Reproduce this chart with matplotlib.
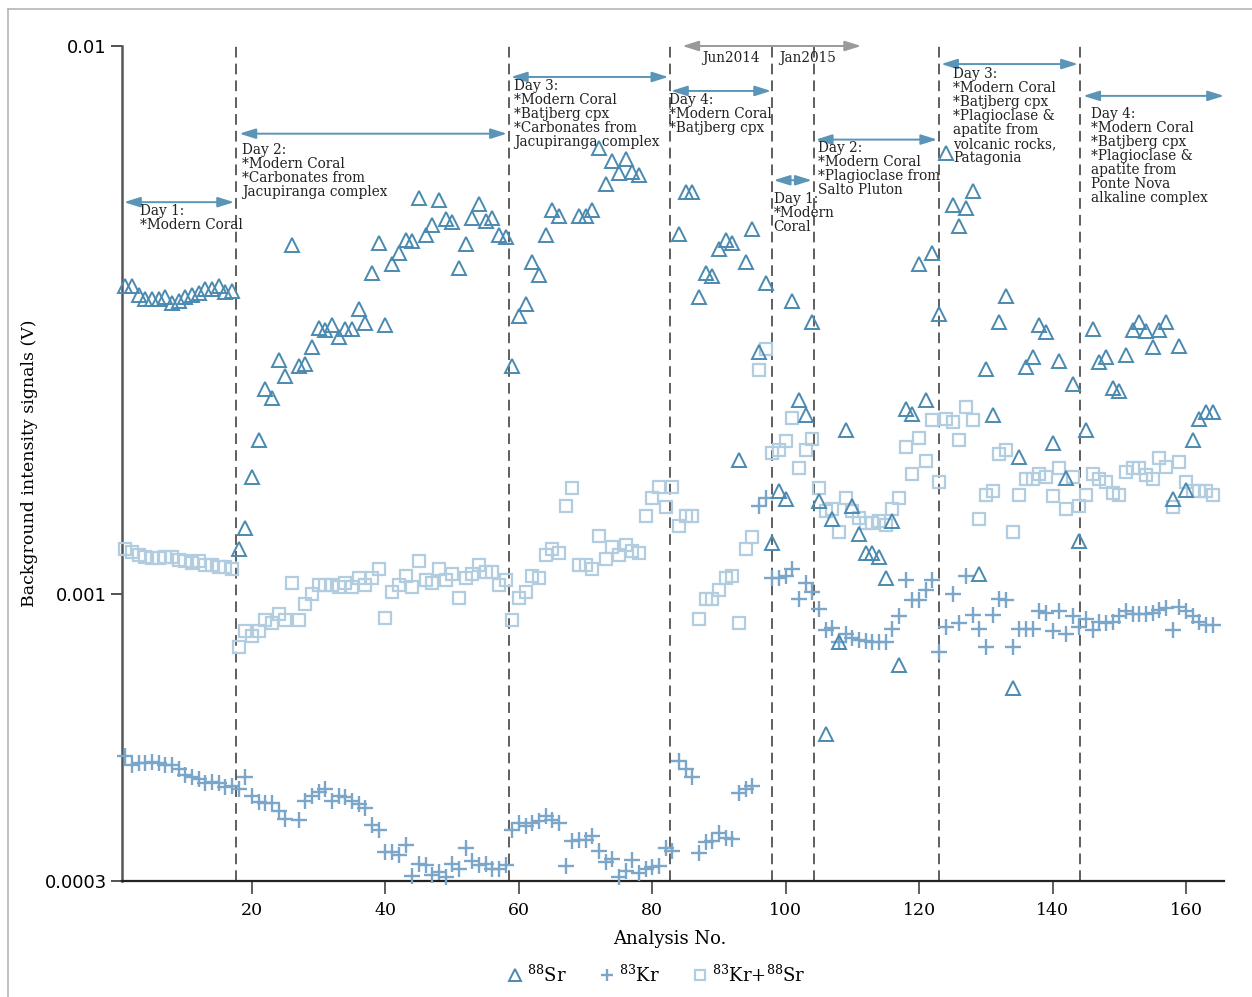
import matplotlib
matplotlib.use('Agg')
import matplotlib.pyplot as plt
import numpy as np
from matplotlib.lines import Line2D

plt.rcParams['font.family'] = ['DejaVu Serif']
plt.rcParams['mathtext.fontset'] = 'custom'
plt.rcParams['mathtext.rm'] = 'DejaVu Serif'
plt.rcParams['mathtext.default'] = 'rm'

nan = np.nan

# analysis numbers (x axis)
analysis_no = np.arange(1, 165)

# 88Sr background, mV
sr88_mV = [
    3.65, 3.65, 3.52, 3.45, 3.46, 3.46, 3.48, 3.40, 3.42, 3.48, 3.52, 3.55, 3.60, 3.61, 3.65, 3.56, 3.58,
    1.21, 1.32, 1.64, 1.91, 2.37, 2.28, 2.67, 2.50, 4.33, 2.61, 2.63, 2.83, 3.06, 3.03, 3.10, 2.95, 3.05,
    3.05, 3.32, 3.13, 3.85, 4.38, 3.10, 4.00, 4.19, 4.43, 4.40, 5.29, 4.53, 4.71, 5.24, 4.83, 4.78, 3.93,
    4.36, 4.86, 5.14, 4.79, 4.86, 4.52, 4.49,
    2.61, 3.22, 3.38, 4.03, 3.82, 4.53, 5.03, 4.90, nan, nan, 4.90, 4.90, 5.02, 6.52, 5.59, 6.18, 5.87,
    6.23, 5.89, 5.81, nan, nan, nan, nan, nan,
    4.55, 5.41, 5.41, 3.48, 3.85, 3.81, 4.26, 4.43, 4.38, 1.76, 4.03, 4.64, 2.77, 3.69,
    1.24, 1.54, 1.49, 3.42, 2.26, 2.12, 3.14,
    1.48, 0.556, 1.37, 0.818, 1.99, 1.45, 1.29, 1.19, 1.19, 1.17, 1.07, 1.36, 0.744, 2.18, 2.13, 4.00,
    2.26, 4.19, 3.24, 6.39,
    5.12, 4.70, 5.06, 5.43, 1.09, 2.58, 2.12, 3.14, 3.50, 0.676, 1.78, 2.60, 2.71, 3.10, 3.01, 1.89,
    2.66, 1.63, 2.42, 1.25,
    1.99, 3.05, 2.65, 2.71, 2.38, 2.35, 2.73, 3.03, 3.14, 3.02, 2.82, 3.03, 3.14, 1.49, 2.84, 1.55,
    1.91, 2.09, 2.15, 2.15,
]

# 83Kr background, mV
kr83_mV = [
    0.507, 0.488, 0.493, 0.493, 0.495, 0.493, 0.488, 0.488, 0.481, 0.469, 0.464, 0.460, 0.452, 0.454,
    0.452, 0.446, 0.448,
    0.441, 0.464, 0.428, 0.418, 0.416, 0.416, 0.403, 0.390, nan, 0.387, 0.419, 0.429, 0.436, 0.442,
    0.420, 0.429, 0.427, 0.420, 0.414, 0.407, 0.379, 0.372, 0.339, 0.339, 0.334, 0.349, 0.307, 0.322,
    0.321, 0.308, 0.311, 0.305, 0.322, 0.316, 0.344, 0.326, 0.321, 0.322, 0.316, 0.316, 0.321,
    0.371, 0.382, 0.378, 0.382, 0.386, 0.394, 0.387, 0.382, 0.319, 0.355, 0.357, 0.357, 0.363, 0.340,
    0.325, 0.329, 0.305, 0.313, 0.328, 0.310, 0.316, 0.318, 0.320, 0.344, 0.340,
    0.496, 0.480, 0.465, 0.337, 0.353, 0.355, 0.367, 0.359, 0.358, 0.434, 0.441, 0.448, 1.45, 1.50,
    1.07, 1.07, 1.08, 1.11, 0.98, 1.05, 1.01,
    0.94, 0.862, 0.868, 0.818, 0.846, 0.832, 0.826, 0.822, 0.820, 0.820, 0.820, 0.865, 0.914, 1.06,
    0.976, 0.976, 1.02, 1.06, 0.785, 0.870, 1.00, 0.886, 1.08, 0.917, 0.865, 0.800, 0.917, 0.980,
    0.976, 0.800, 0.865, 0.865, 0.865, 0.931, 0.924, 0.856, 0.933, 0.846, 0.914, 0.870, 0.901, 0.862,
    0.89, 0.886, 0.89, 0.914, 0.933, 0.92, 0.92, 0.92, 0.924, 0.936, 0.943, 0.862, 0.95, 0.931,
    0.914, 0.892, 0.88, 0.88,
]

# 83Kr+88Sr background, mV
krsr_mV = [
    1.21, 1.195, 1.18, 1.17, 1.165, 1.165, 1.17, 1.17, 1.155, 1.15, 1.14, 1.15, 1.13, 1.13, 1.12, 1.12, 1.11,
    0.80, 0.857, 0.838, 0.857, 0.898, 0.886, 0.92, 0.898, 1.05, 0.898, 0.96, 1.00, 1.04, 1.04, 1.04,
    1.03, 1.05, 1.03, 1.07, 1.04, 1.07, 1.11, 0.904, 1.01, 1.04, 1.08, 1.03, 1.15, 1.06, 1.05, 1.11,
    1.06, 1.09, 0.985, 1.07, 1.09, 1.13, 1.10, 1.10, 1.04, 1.06,
    0.898, 0.985, 1.01, 1.08, 1.07, 1.18, 1.21, 1.19, 1.45, 1.56, 1.13, 1.13, 1.11, 1.28, 1.16, 1.22,
    1.18, 1.23, 1.20, 1.19, 1.39, 1.50, 1.57, 1.44, 1.57,
    1.33, 1.39, 1.39, 0.90, 0.98, 0.98, 1.02, 1.07, 1.08, 0.886, 1.21, 1.27, 2.57, 2.80,
    1.81, 1.83, 1.90, 2.10, 1.70, 1.83, 1.92,
    1.56, 1.42, 1.43, 1.30, 1.50, 1.42, 1.38, 1.35, 1.35, 1.36, 1.34, 1.43, 1.50, 1.86, 1.66, 1.93,
    1.75, 2.08, 1.60, 2.09, 2.06, 1.91, 2.20, 2.08, 1.37, 1.52, 1.54, 1.80, 1.83, 1.30, 1.52, 1.62,
    1.62, 1.66, 1.64, 1.51, 1.70, 1.43, 1.64, 1.45, 1.52, 1.66, 1.62, 1.60, 1.53, 1.52, 1.67, 1.70,
    1.70, 1.65, 1.62, 1.77, 1.71, 1.44, 1.74, 1.60, 1.54, 1.54, 1.54, 1.52,
]

# session boundaries (analysis No.)
session_breaks = [17.6, 58.5, 82.7, 98.0, 104.2, 123.0, 144.1]

# session notes: (arrow start, arrow end, arrow y [V], text x, text y [V], text)
sessions = [
    (0.8, 17.3, 5.19e-3, 3.2, 5.15e-3, 'Day 1:\n*Modern Coral'),
    (18.1, 58.2, 6.92e-3, 18.5, 6.65e-3, 'Day 2:\n*Modern Coral\n*Carbonates from\nJacupiranga complex'),
    (58.8, 82.4, 8.78e-3, 59.3, 8.72e-3,
     'Day 3:\n*Modern Coral\n*Batjberg cpx\n*Carbonates from\nJacupiranga complex'),
    (82.8, 97.8, 8.28e-3, 82.5, 8.2e-3, 'Day 4:\n*Modern Coral\n*Batjberg cpx'),
    (98.2, 103.9, 5.69e-3, 98.2, 5.42e-3, 'Day 1:\n*Modern\nCoral'),
    (104.5, 122.7, 6.75e-3, 104.8, 6.7e-3, 'Day 2:\n*Modern Coral\n*Plagioclase from\nSalto Pluton'),
    (123.3, 143.8, 9.27e-3, 125.1, 9.15e-3,
     'Day 3:\n*Modern Coral\n*Batjberg cpx\n*Plagioclase &\napatite from\nvolcanic rocks,\nPatagonia'),
    (144.6, 165.7, 8.11e-3, 145.8, 7.75e-3,
     'Day 4:\n*Modern Coral\n*Batjberg cpx\n*Plagioclase &\napatite from\nPonte Nova\nalkaline complex'),
]

SR_COL = '#4b8ab0'
KR_COL = '#7aa6c9'
MIX_COL = '#b2cce0'
ARROW_COL = '#5a95b8'

fig = plt.figure(figsize=(12.52, 9.97), dpi=100)
ax = fig.add_axes([122 / 1252, 116 / 997, 1102 / 1252, 835 / 997])

ax.plot(analysis_no, np.array(krsr_mV) / 1000, ls='none', marker='s', ms=9, mfc='none',
        mec=MIX_COL, mew=1.6, clip_on=False, zorder=3, label=r'$^{83}$Kr+$^{88}$Sr')
ax.plot(analysis_no, np.array(kr83_mV) / 1000, ls='none', marker='+', ms=11, mec=KR_COL,
        mew=1.7, clip_on=False, zorder=4, label=r'$^{83}$Kr')
ax.plot(analysis_no, np.array(sr88_mV) / 1000, ls='none', marker='^', ms=9.5, mfc='none',
        mec=SR_COL, mew=1.4, clip_on=False, zorder=5, label=r'$^{88}$Sr')

for xb in session_breaks:
    ax.axvline(xb, color='#333333', lw=1.1, ls=(0, (7, 4)), zorder=2)

arrow_kw = dict(arrowstyle='<|-|>,head_length=0.7,head_width=0.22', color=ARROW_COL, lw=1.4,
                shrinkA=0, shrinkB=0, mutation_scale=14)
for x0, x1, ya, tx, ty, txt in sessions:
    ax.annotate('', xy=(x1, ya), xytext=(x0, ya), arrowprops=arrow_kw, annotation_clip=False)
    ax.text(tx, ty, txt, ha='left', va='top', fontsize=9.8, linespacing=1.0, color='#222222')

# campaign arrow
gray_kw = dict(arrow_kw, color='#9a9a9a')
ax.annotate('', xy=(111.3, 1.0e-2), xytext=(84.5, 1.0e-2), arrowprops=gray_kw, annotation_clip=False)
ax.text(91.8, 9.5e-3, 'Jun2014', ha='center', va='center', fontsize=9.8, color='#222222')
ax.text(103.3, 9.5e-3, 'Jan2015', ha='center', va='center', fontsize=9.8, color='#222222')

ax.set_yscale('log')
ax.set_xlim(0.5, 165.7)
ax.set_ylim(3e-4, 1e-2)
ax.set_yticks([3e-4, 1e-3, 1e-2])
ax.set_yticklabels(['0.0003', '0.001', '0.01'], fontfamily='DejaVu Sans', fontsize=13)
ax.yaxis.set_minor_locator(matplotlib.ticker.NullLocator())
ax.set_xticks([20, 40, 60, 80, 100, 120, 140, 160])
ax.tick_params(axis='x', labelsize=12.5, length=9, width=1.1, color='#333333', pad=6)
ax.tick_params(axis='y', length=8, width=1.3, color='#444444', pad=3)

for side in ['top', 'right']:
    ax.spines[side].set_visible(False)
ax.spines['left'].set_color('#555555')
ax.spines['left'].set_linewidth(1.8)
ax.spines['bottom'].set_color('#222222')
ax.spines['bottom'].set_linewidth(1.6)

ax.set_xlabel('Analysis No.', fontsize=13)
ax.xaxis.set_label_coords(0.497, -0.059)
ax.set_ylabel('Background intensity signals (V)', fontsize=12.5)
ax.yaxis.set_label_coords(-0.076, 0.5)

handles, labels = ax.get_legend_handles_labels()
order = [2, 1, 0]
fig.legend([handles[i] for i in order], [labels[i] for i in order], loc='center',
           bbox_to_anchor=(0.523, 0.022), ncol=3, frameon=False, fontsize=13,
           handletextpad=0.1, columnspacing=1.6, handlelength=1.2, markerscale=0.85)

# thin frame line at left and top
fig.add_artist(Line2D([8 / 1252, 8 / 1252], [0, 1 - 9 / 997], transform=fig.transFigure,
                      color='#b5b5b5', lw=1.2))
fig.add_artist(Line2D([8 / 1252, 1], [1 - 9 / 997, 1 - 9 / 997], transform=fig.transFigure,
                      color='#b5b5b5', lw=1.2))

fig.savefig('out.png', dpi=100)
